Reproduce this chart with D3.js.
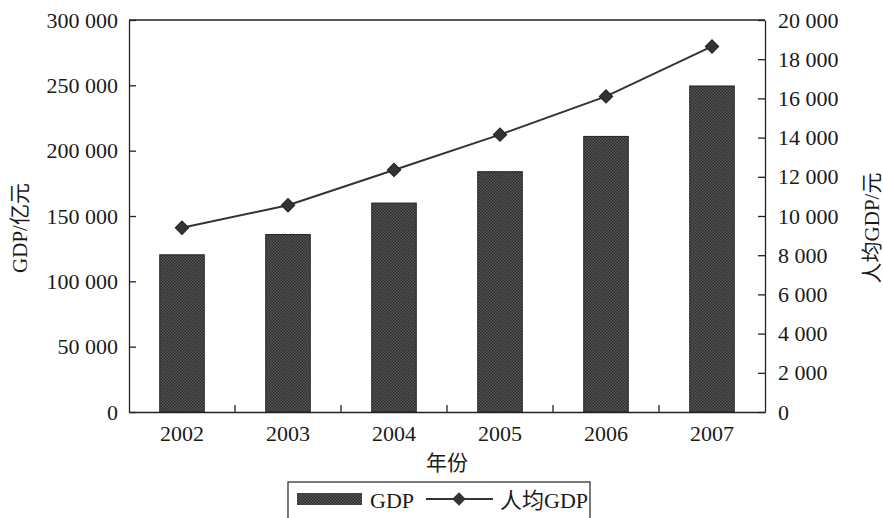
<html>
<head>
  <script type="text/javascript" src="https://d3js.org/d3.v7.min.js"></script>
  <style>
      body { margin: 0; background: #fff; }
      text { font-family: "Liberation Serif", "Noto Sans CJK SC", serif; fill: #1a1a1a; }
  </style>
</head>
<body>
<div id="chart"></div>
<script>
    // data
    const years = ["2002", "2003", "2004", "2005", "2006", "2007"];
    const gdp = [120300, 135800, 159900, 183900, 210900, 249500];      // 亿元
    const gdpPerCapita = [9400, 10550, 12350, 14150, 16100, 18650];   // 元
    const leftTicks = [0, 50000, 100000, 150000, 200000, 250000, 300000];
    const rightTicks = [0, 2000, 4000, 6000, 8000, 10000, 12000, 14000, 16000, 18000, 20000];

    const width = 883, height = 518;
    const margin = {top: 20, right: 118, bottom: 106, left: 129};
    const CHART_WIDTH = width - margin.left - margin.right;
    const CHART_HEIGHT = height - margin.top - margin.bottom;

    const fmt = d3.formatLocale({decimal: ".", thousands: " ", grouping: [3], currency: ["", ""]}).format(",");

    const svg = d3.select("#chart").append("svg")
        .attr("width", width)
        .attr("height", height);

    // stippled bar fill
    const pat = svg.append("defs").append("pattern")
        .attr("id", "dots")
        .attr("width", 3).attr("height", 3)
        .attr("patternUnits", "userSpaceOnUse");
    pat.append("rect").attr("width", 3).attr("height", 3).attr("fill", "#5a5a5a");
    pat.append("rect").attr("width", 1.5).attr("height", 1.5).attr("fill", "#2a2a2a");
    pat.append("rect").attr("x", 1.5).attr("y", 1.5).attr("width", 1.5).attr("height", 1.5).attr("fill", "#2a2a2a");

    const xScale = d3.scaleBand()
        .domain(years)
        .range([0, CHART_WIDTH])
        .paddingInner(0.58)
        .paddingOuter(0.29);

    const yLeft = d3.scaleLinear().domain([0, 300000]).range([CHART_HEIGHT, 0]);
    const yRight = d3.scaleLinear().domain([0, 20000]).range([CHART_HEIGHT, 0]);

    const g = svg.append("g")
        .attr("transform", `translate(${margin.left}, ${margin.top})`);

    // bars
    g.selectAll(".bar")
        .data(years)
        .enter()
        .append("rect")
        .attr("class", "bar")
        .attr("x", d => xScale(d))
        .attr("y", (d, i) => yLeft(gdp[i]))
        .attr("width", xScale.bandwidth())
        .attr("height", (d, i) => CHART_HEIGHT - yLeft(gdp[i]))
        .attr("fill", "url(#dots)")
        .attr("stroke", "#222")
        .attr("stroke-width", 1);

    // line + diamonds
    const line = d3.line()
        .x((d, i) => xScale(years[i]) + xScale.bandwidth() / 2)
        .y(d => yRight(d));

    g.append("path")
        .datum(gdpPerCapita)
        .attr("d", line)
        .attr("fill", "none")
        .attr("stroke", "#333")
        .attr("stroke-width", 2);

    const diamond = d3.symbol().type(d3.symbolSquare).size(90);
    g.selectAll(".pt")
        .data(gdpPerCapita)
        .enter()
        .append("path")
        .attr("class", "pt")
        .attr("d", diamond)
        .attr("transform", (d, i) => `translate(${xScale(years[i]) + xScale.bandwidth() / 2}, ${yRight(d)}) rotate(45)`)
        .attr("fill", "#333")
        .attr("stroke", "#222");

    // axes
    const leftAxis = g.append("g")
        .call(d3.axisLeft(yLeft).tickValues(leftTicks).tickFormat(fmt).tickSizeInner(-7).tickSizeOuter(0).tickPadding(11));

    const rightAxis = g.append("g")
        .attr("transform", `translate(${CHART_WIDTH}, 0)`)
        .call(d3.axisRight(yRight).tickValues(rightTicks).tickFormat(fmt).tickSizeInner(-7).tickSizeOuter(0).tickPadding(13));

    const bottomAxis = g.append("g")
        .attr("transform", `translate(0, ${CHART_HEIGHT})`)
        .call(d3.axisBottom(xScale).tickSize(0).tickPadding(13));

    // category boundary ticks on the x axis
    const step = xScale.step();
    bottomAxis.selectAll(".bound")
        .data(years.slice(1))
        .enter()
        .append("line")
        .attr("x1", d => xScale(d) - step * xScale.paddingInner() / 2)
        .attr("x2", d => xScale(d) - step * xScale.paddingInner() / 2)
        .attr("y1", 0).attr("y2", -7)
        .attr("stroke", "#222")
        .attr("stroke-width", 1.3);

    // top border
    g.append("line")
        .attr("x1", 0).attr("x2", CHART_WIDTH)
        .attr("y1", 0).attr("y2", 0)
        .attr("stroke", "#222").attr("stroke-width", 1.3);

    [leftAxis, rightAxis, bottomAxis].forEach(a => {
        a.selectAll("path.domain, .tick line").attr("stroke", "#222").attr("stroke-width", 1.3);
        a.selectAll("text").style("font-size", "22px").style("font-family", '"Liberation Serif", serif').attr("fill", "#1a1a1a");
    });

    // axis titles
    svg.append("text")
        .attr("transform", `translate(27, ${margin.top + CHART_HEIGHT / 2 + 12}) rotate(-90)`)
        .attr("text-anchor", "middle")
        .style("font-size", "21px")
        .text("GDP/亿元");

    svg.append("text")
        .attr("transform", `translate(879, ${margin.top + CHART_HEIGHT / 2 + 12}) rotate(-90)`)
        .attr("text-anchor", "middle")
        .style("font-size", "21px")
        .text("人均GDP/元");

    svg.append("text")
        .attr("x", 447).attr("y", 470)
        .attr("text-anchor", "middle")
        .style("font-size", "21px")
        .text("年份");

    // legend
    const lg = svg.append("g").attr("transform", "translate(288, 482)");
    lg.append("rect")
        .attr("width", 302).attr("height", 50)
        .attr("fill", "#fff").attr("stroke", "#333").attr("stroke-width", 1.3);
    lg.append("rect")
        .attr("x", 9).attr("y", 11).attr("width", 65).attr("height", 12)
        .attr("fill", "url(#dots)");
    lg.append("text").attr("x", 82).attr("y", 26).style("font-size", "22px").text("GDP");
    lg.append("line")
        .attr("x1", 138).attr("x2", 205).attr("y1", 17).attr("y2", 17)
        .attr("stroke", "#333").attr("stroke-width", 2);
    lg.append("path")
        .attr("d", diamond)
        .attr("transform", "translate(171, 17) rotate(45)")
        .attr("fill", "#333");
    lg.append("text").attr("x", 212).attr("y", 26).style("font-size", "22px").text("人均GDP");
</script>
</body>
</html>
